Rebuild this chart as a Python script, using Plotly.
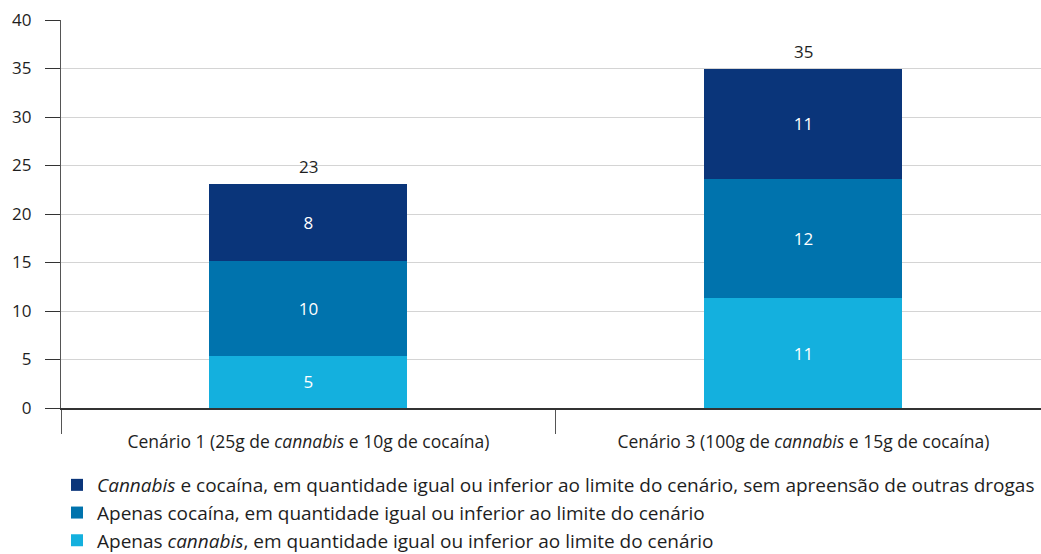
import plotly.graph_objects as go

categories = [
    "Cenário 1 (25g de <i>cannabis</i> e 10g de cocaína)",
    "Cenário 3 (100g de <i>cannabis</i> e 15g de cocaína)",
]
series_names = [
    "Apenas <i>cannabis</i>, em quantidade igual ou inferior ao limite do cenário",
    "Apenas cocaína, em quantidade igual ou inferior ao limite do cenário",
    "<i>Cannabis</i> e cocaína, em quantidade igual ou inferior ao limite do cenário, sem apreensão de outras drogas",
]
apenas_cannabis = [5.4, 11.3]
apenas_cocaina = [9.8, 12.3]
cannabis_e_cocaina = [7.9, 11.4]
series_values = [apenas_cannabis, apenas_cocaina, cannabis_e_cocaina]
series_colors = ["#14b0de", "#0073ad", "#0a357a"]
y_ticks = [0, 5, 10, 15, 20, 25, 30, 35, 40]

FONT = "Open Sans, Noto Sans, sans-serif"
TEXT = "#1e1e1e"

fig = go.Figure()
for i, (name, vals, col) in enumerate(zip(series_names, series_values, series_colors)):
    fig.add_trace(go.Bar(
        x=categories, y=vals, name=name,
        marker=dict(color=col, line=dict(width=0)),
        width=0.4,
        text=vals, texttemplate="%{y:.0f}", textposition="inside",
        insidetextanchor="middle",
        textfont=dict(color="white", size=17, family=FONT),
        legendgroup=f"g{i}",
        hoverinfo="skip",
    ))

totals = [sum(v) for v in zip(*series_values)]
for cat, t in zip(categories, totals):
    fig.add_annotation(x=cat, y=t, text=f"{t:.0f}", showarrow=False,
                       yanchor="bottom", yshift=4,
                       font=dict(size=17, color=TEXT, family=FONT))

fig.update_layout(
    width=1041, height=554,
    margin=dict(l=61, r=0, t=20, b=146, autoexpand=False),
    barmode="stack",
    plot_bgcolor="white", paper_bgcolor="white",
    font=dict(family=FONT, size=17, color=TEXT),
    showlegend=True,
    legend=dict(
        orientation="v", traceorder="reversed",
        xref="container", yref="container",
        x=57 / 1041, xanchor="left", y=1 - 466 / 554, yanchor="top",
        font=dict(size=19, color=TEXT, family=FONT),
        tracegroupgap=10, itemwidth=30,
    ),
    xaxis=dict(
        type="category",
        range=[-0.5, 1.48],
        automargin=False,
        showline=True, linecolor="#333333", linewidth=1.5,
        ticks="outside", tickson="boundaries", ticklen=24, tickcolor="#555555",
        ticklabelstandoff=17,
        tickfont=dict(size=17.5, color=TEXT, family=FONT),
        showgrid=False, zeroline=False,
    ),
    yaxis=dict(
        range=[0, 40], tickvals=y_ticks,
        automargin=False,
        showline=True, linecolor="#555555", linewidth=1.2,
        ticks="outside", ticklen=15, tickcolor="#333333",
        ticklabelstandoff=10,
        showgrid=True, gridcolor="#d4d4d4", gridwidth=1,
        zeroline=False,
        tickfont=dict(size=17, color=TEXT, family=FONT),
    ),
)

fig.write_html("out.html")
